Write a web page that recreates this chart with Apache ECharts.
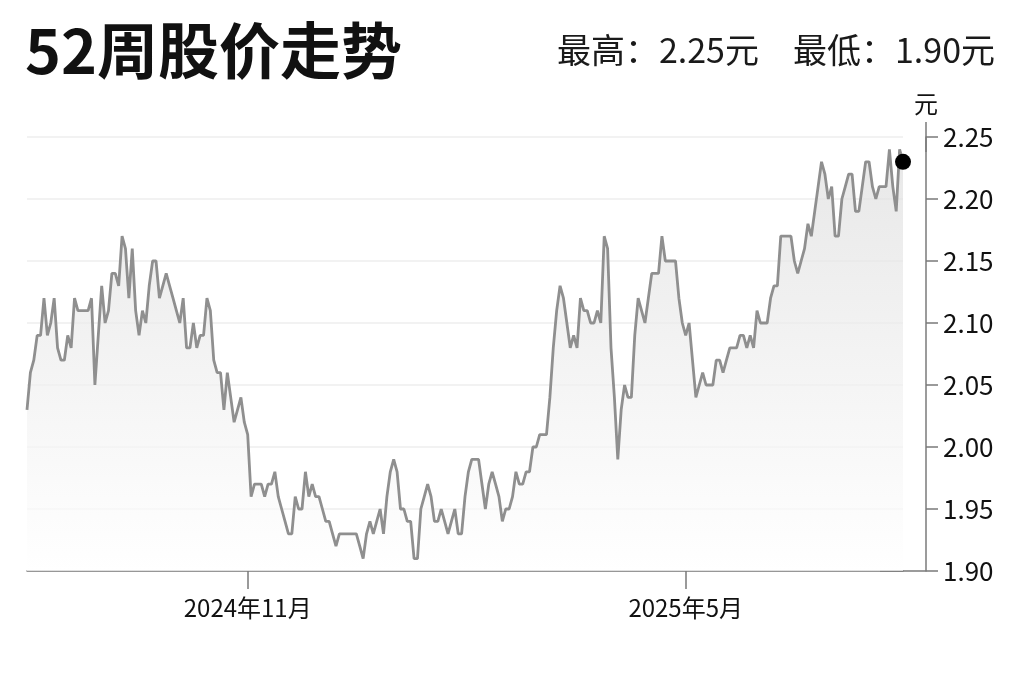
<!DOCTYPE html>
<html lang="zh-CN">
<head>
    <meta charset="utf-8" />
    <title>52周股价走势</title>
    <style>
        html, body { margin: 0; padding: 0; background: #fff; }
        #main { width: 1024px; height: 682px; }
    </style>
</head>
<body>
    <div id="main"></div>
    <script src="https://cdn.jsdelivr.net/npm/echarts@6.0.0/dist/echarts.min.js"></script>
    <script>
    // 每个交易日收盘价
    var prices = [
      2.03, 2.06, 2.07, 2.09, 2.09, 2.12, 2.09, 2.10, 2.12, 2.08,
      2.07, 2.07, 2.09, 2.08, 2.12, 2.11, 2.11, 2.11, 2.11, 2.12,
      2.05, 2.09, 2.13, 2.10, 2.11, 2.14, 2.14, 2.13, 2.17, 2.16,
      2.12, 2.16, 2.11, 2.09, 2.11, 2.10, 2.13, 2.15, 2.15, 2.12,
      2.13, 2.14, 2.13, 2.12, 2.11, 2.10, 2.12, 2.08, 2.08, 2.10,
      2.08, 2.09, 2.09, 2.12, 2.11, 2.07, 2.06, 2.06, 2.03, 2.06,
      2.04, 2.02, 2.03, 2.04, 2.02, 2.01, 1.96, 1.97, 1.97, 1.97,
      1.96, 1.97, 1.97, 1.98, 1.96, 1.95, 1.94, 1.93, 1.93, 1.96,
      1.95, 1.95, 1.98, 1.96, 1.97, 1.96, 1.96, 1.95, 1.94, 1.94,
      1.93, 1.92, 1.93, 1.93, 1.93, 1.93, 1.93, 1.93, 1.92, 1.91,
      1.93, 1.94, 1.93, 1.94, 1.95, 1.93, 1.96, 1.98, 1.99, 1.98,
      1.95, 1.95, 1.94, 1.94, 1.91, 1.91, 1.95, 1.96, 1.97, 1.96,
      1.94, 1.94, 1.95, 1.94, 1.93, 1.94, 1.95, 1.93, 1.93, 1.96,
      1.98, 1.99, 1.99, 1.99, 1.97, 1.95, 1.97, 1.98, 1.97, 1.96,
      1.94, 1.95, 1.95, 1.96, 1.98, 1.97, 1.97, 1.98, 1.98, 2.00,
      2.00, 2.01, 2.01, 2.01, 2.04, 2.08, 2.11, 2.13, 2.12, 2.10,
      2.08, 2.09, 2.08, 2.12, 2.11, 2.11, 2.10, 2.10, 2.11, 2.10,
      2.17, 2.16, 2.08, 2.04, 1.99, 2.03, 2.05, 2.04, 2.04, 2.09,
      2.12, 2.11, 2.10, 2.12, 2.14, 2.14, 2.14, 2.17, 2.15, 2.15,
      2.15, 2.15, 2.12, 2.10, 2.09, 2.10, 2.07, 2.04, 2.05, 2.06,
      2.05, 2.05, 2.05, 2.07, 2.07, 2.06, 2.07, 2.08, 2.08, 2.08,
      2.09, 2.09, 2.08, 2.09, 2.08, 2.11, 2.10, 2.10, 2.10, 2.12,
      2.13, 2.13, 2.17, 2.17, 2.17, 2.17, 2.15, 2.14, 2.15, 2.16,
      2.18, 2.17, 2.19, 2.21, 2.23, 2.22, 2.20, 2.21, 2.17, 2.17,
      2.20, 2.21, 2.22, 2.22, 2.19, 2.19, 2.21, 2.23, 2.23, 2.21,
      2.20, 2.21, 2.21, 2.21, 2.24, 2.21, 2.19, 2.24, 2.23
    ];
    var startDate = '2024-08-02';
    var tickDates = ['2024-11-01', '2025-05-01'];
    var tickLabels = ['2024年11月', '2025年5月'];
    var yTicks = [1.90, 1.95, 2.00, 2.05, 2.10, 2.15, 2.20, 2.25];
    var highPrice = '2.25';
    var lowPrice = '1.90';

    // 交易日（跳过周末）
    function pad(n) { return n < 10 ? '0' + n : '' + n; }
    var dates = [];
    var d = new Date(startDate + 'T00:00:00');
    while (dates.length < prices.length) {
      var w = d.getDay();
      if (w != 0 && w != 6) {
        dates.push(d.getFullYear() + '-' + pad(d.getMonth() + 1) + '-' + pad(d.getDate()));
      }
      d.setDate(d.getDate() + 1);
    }
    var last = prices.length - 1;

    var font = '"Noto Sans CJK SC", "Noto Sans", sans-serif';
    var axisColor = '#7a7a7a';

    var myChart = echarts.init(document.getElementById('main'));
    var option = {
      backgroundColor: '#fff',
      animation: false,
      textStyle: { fontFamily: font },
      title: [{
        text: '52周股价走势',
        left: 20,
        top: 15,
        textStyle: { fontFamily: font, fontSize: 61, fontWeight: 'bold', color: '#111', lineHeight: 61 }
      }, {
        text: '最高：' + highPrice + '元　最低：' + lowPrice + '元',
        right: 24,
        top: 28,
        textStyle: { fontFamily: font, fontSize: 34, fontWeight: 'normal', color: '#1a1a1a', lineHeight: 34 }
      }],
      grid: {
        left: 27,
        right: 121,
        top: 137,
        bottom: 111
      },
      xAxis: {
        type: 'category',
        data: dates,
        boundaryGap: false,
        axisLine: {
          show: true,
          symbol: ['none', 'rect'],
          symbolSize: [1.5, 46],
          lineStyle: { color: axisColor, width: 1.5 }
        },
        axisTick: {
          show: true,
          length: 18,
          interval: function(index, value) { return tickDates.indexOf(value) >= 0; },
          lineStyle: { color: axisColor, width: 1.5 }
        },
        axisLabel: {
          interval: function(index, value) { return tickDates.indexOf(value) >= 0; },
          formatter: function(value) { return tickLabels[tickDates.indexOf(value)]; },
          margin: 25,
          fontSize: 24,
          color: '#111',
          fontFamily: font
        },
        splitLine: { show: false }
      },
      yAxis: {
        type: 'value',
        position: 'right',
        offset: 23,
        min: yTicks[0],
        max: yTicks[yTicks.length - 1],
        interval: 0.05,
        name: '元',
        nameLocation: 'end',
        nameGap: 33,
        nameTextStyle: { fontSize: 24, color: '#111', align: 'center', verticalAlign: 'middle', fontFamily: font },
        axisLine: {
          show: true,
          symbol: ['none', 'rect'],
          symbolSize: [1.5, 30],
          lineStyle: { color: axisColor, width: 1.5 }
        },
        axisTick: {
          show: true,
          inside: false,
          length: 12,
          lineStyle: { color: axisColor, width: 1.5 }
        },
        axisLabel: {
          margin: 17,
          fontSize: 26,
          color: '#111',
          fontFamily: font,
          formatter: function(v) { return v.toFixed(2); }
        },
        splitLine: {
          show: true,
          lineStyle: { color: '#eeeeee', width: 1.5 }
        }
      },
      series: [{
        name: '股价',
        type: 'line',
        data: prices,
        showSymbol: false,
        smooth: false,
        lineStyle: { color: '#8f8f8f', width: 2.8 },
        areaStyle: {
          color: new echarts.graphic.LinearGradient(0, 0, 0, 1, [
            { offset: 0, color: '#dedede' },
            { offset: 1, color: 'rgba(255,255,255,1)' }
          ])
        }
      }, {
        name: '最新',
        type: 'scatter',
        data: [[dates[last], prices[last]]],
        symbolSize: 16,
        itemStyle: { color: '#000', opacity: 1 },
        z: 5
      }]
    };
    myChart.setOption(option);
    </script>
</body>
</html>
